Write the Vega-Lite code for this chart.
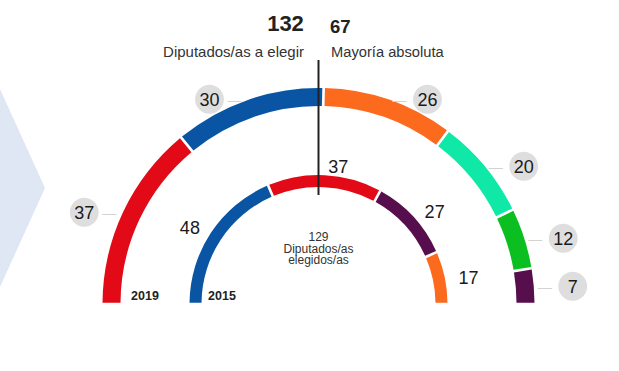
{
  "$schema": "https://vega.github.io/schema/vega-lite/v6.json",
  "autosize": {"type": "none"},
  "padding": {"left": 18, "top": 0, "right": 0, "bottom": 67},
  "width": 601,
  "height": 304,
  "background": "white",
  "config": {"view": {"stroke": null}, "font": "Liberation Sans"},
  "datasets": {
    "e2019": [
      {"partido": "PSOE", "escanos": 37, "orden": 1},
      {"partido": "PP", "escanos": 30, "orden": 2},
      {"partido": "Cs", "escanos": 26, "orden": 3},
      {"partido": "Más Madrid", "escanos": 20, "orden": 4},
      {"partido": "Vox", "escanos": 12, "orden": 5},
      {"partido": "Unidas Podemos", "escanos": 7, "orden": 6}
    ],
    "e2015": [
      {"partido": "PP", "escanos": 48, "orden": 1},
      {"partido": "PSOE", "escanos": 37, "orden": 2},
      {"partido": "Podemos", "escanos": 27, "orden": 3},
      {"partido": "Cs", "escanos": 17, "orden": 4}
    ],
    "deco": [{"d": 1}]
  },
  "layer": [
    {
      "data": {"name": "deco"},
      "mark": {"type": "point", "filled": true, "shape": "M -1 -2.2 L 0 0 L -1 2.2 Z", "size": 40000, "color": "#dfe6f4", "opacity": 1},
      "encoding": {"x": {"value": 27}, "y": {"value": 188}}
    },
    {
      "data": {"name": "e2019"},
      "mark": {"type": "arc", "outerRadius": 216, "innerRadius": 198, "padAngle": 0.009, "x": {"expr": "width/2"}, "y": {"expr": "height"}},
      "encoding": {
        "theta": {"field": "escanos", "type": "quantitative", "stack": true, "scale": {"domain": [0, 132], "range": [-1.5708, 1.5708]}},
        "order": {"field": "orden", "type": "quantitative"},
        "color": {"field": "partido", "type": "nominal", "legend": null,
          "scale": {"domain": ["PSOE", "PP", "Cs", "Más Madrid", "Vox", "Unidas Podemos", "Podemos"],
                    "range": ["#e30a17", "#0a55a3", "#fc6a1e", "#10e8a8", "#0cbf20", "#570e4d", "#570e4d"]}}
      }
    },
    {
      "data": {"name": "e2019"},
      "mark": {"type": "text", "radius": 217, "fontSize": 14, "color": "#d2d2d2", "baseline": "middle", "align": "center", "dx": -13, "dy": 2, "x": {"expr": "width/2"}, "y": {"expr": "height"}},
      "encoding": {
        "theta": {"field": "escanos", "type": "quantitative", "stack": true, "scale": {"domain": [0, 132], "range": [-1.5708, 1.5708]}},
        "order": {"field": "orden", "type": "quantitative"},
        "text": {"condition": {"test": "datum.orden <= 2", "value": "—"}, "value": ""}
      }
    },
    {
      "data": {"name": "e2019"},
      "mark": {"type": "text", "radius": 217, "fontSize": 14, "color": "#d2d2d2", "baseline": "middle", "align": "center", "dx": 10, "dy": 2, "x": {"expr": "width/2"}, "y": {"expr": "height"}},
      "encoding": {
        "theta": {"field": "escanos", "type": "quantitative", "stack": true, "scale": {"domain": [0, 132], "range": [-1.5708, 1.5708]}},
        "order": {"field": "orden", "type": "quantitative"},
        "text": {"condition": {"test": "datum.orden >= 3", "value": "—"}, "value": ""}
      }
    },
    {
      "data": {"name": "e2019"},
      "mark": {"type": "text", "radius": 217, "fontSize": 67, "color": "#dedede", "baseline": "middle", "align": "center", "dx": -38, "dy": -1, "x": {"expr": "width/2"}, "y": {"expr": "height"}},
      "encoding": {
        "theta": {"field": "escanos", "type": "quantitative", "stack": true, "scale": {"domain": [0, 132], "range": [-1.5708, 1.5708]}},
        "order": {"field": "orden", "type": "quantitative"},
        "text": {"condition": {"test": "datum.orden <= 2", "value": "●"}, "value": ""}
      }
    },
    {
      "data": {"name": "e2019"},
      "mark": {"type": "text", "radius": 217, "fontSize": 67, "color": "#dedede", "baseline": "middle", "align": "center", "dx": 38, "dy": -1, "x": {"expr": "width/2"}, "y": {"expr": "height"}},
      "encoding": {
        "theta": {"field": "escanos", "type": "quantitative", "stack": true, "scale": {"domain": [0, 132], "range": [-1.5708, 1.5708]}},
        "order": {"field": "orden", "type": "quantitative"},
        "text": {"condition": {"test": "datum.orden >= 3", "value": "●"}, "value": ""}
      }
    },
    {
      "data": {"name": "e2019"},
      "mark": {"type": "text", "radius": 217, "fontSize": 18, "color": "#1a1a1a", "baseline": "middle", "align": "center", "dx": -38, "dy": 2, "x": {"expr": "width/2"}, "y": {"expr": "height"}},
      "encoding": {
        "theta": {"field": "escanos", "type": "quantitative", "stack": true, "scale": {"domain": [0, 132], "range": [-1.5708, 1.5708]}},
        "order": {"field": "orden", "type": "quantitative"},
        "text": {"condition": {"test": "datum.orden <= 2", "field": "escanos", "type": "quantitative"}, "value": ""}
      }
    },
    {
      "data": {"name": "e2019"},
      "mark": {"type": "text", "radius": 217, "fontSize": 18, "color": "#1a1a1a", "baseline": "middle", "align": "center", "dx": 38, "dy": 2, "x": {"expr": "width/2"}, "y": {"expr": "height"}},
      "encoding": {
        "theta": {"field": "escanos", "type": "quantitative", "stack": true, "scale": {"domain": [0, 132], "range": [-1.5708, 1.5708]}},
        "order": {"field": "orden", "type": "quantitative"},
        "text": {"condition": {"test": "datum.orden >= 3", "field": "escanos", "type": "quantitative"}, "value": ""}
      }
    },
    {
      "data": {"name": "e2015"},
      "mark": {"type": "arc", "outerRadius": 129, "innerRadius": 117, "padAngle": 0.015, "x": {"expr": "width/2"}, "y": {"expr": "height"}},
      "encoding": {
        "theta": {"field": "escanos", "type": "quantitative", "stack": true, "scale": {"domain": [0, 129], "range": [-1.5708, 1.5708]}},
        "order": {"field": "orden", "type": "quantitative"},
        "color": {"field": "partido", "type": "nominal", "legend": null}
      }
    },
    {
      "data": {"name": "e2015"},
      "mark": {"type": "text", "radius": 141, "fontSize": 18, "color": "#1a1a1a", "baseline": "middle", "align": "right", "dx": -1, "dy": 3, "x": {"expr": "width/2"}, "y": {"expr": "height"}},
      "encoding": {
        "theta": {"field": "escanos", "type": "quantitative", "stack": true, "scale": {"domain": [0, 129], "range": [-1.5708, 1.5708]}},
        "order": {"field": "orden", "type": "quantitative"},
        "text": {"condition": {"test": "datum.orden <= 1", "field": "escanos", "type": "quantitative"}, "value": ""}
      }
    },
    {
      "data": {"name": "e2015"},
      "mark": {"type": "text", "radius": 140, "fontSize": 18, "color": "#1a1a1a", "baseline": "middle", "align": "left", "dx": 3, "dy": 4, "x": {"expr": "width/2"}, "y": {"expr": "height"}},
      "encoding": {
        "theta": {"field": "escanos", "type": "quantitative", "stack": true, "scale": {"domain": [0, 129], "range": [-1.5708, 1.5708]}},
        "order": {"field": "orden", "type": "quantitative"},
        "text": {"condition": {"test": "datum.orden >= 2", "field": "escanos", "type": "quantitative"}, "value": ""}
      }
    },
    {
      "data": {"name": "deco"},
      "mark": {"type": "rule", "color": "#222222", "strokeWidth": 2, "x": {"expr": "width/2"}},
      "encoding": {"y": {"value": 60}, "y2": {"value": 195}}
    },
    {
      "data": {"name": "deco"},
      "mark": {"type": "text", "fontSize": 22, "fontWeight": "bold", "color": "#222222", "align": "center", "baseline": "alphabetic", "dx": -33, "x": {"expr": "width/2"}},
      "encoding": {"y": {"value": 31}, "text": {"value": "132"}}
    },
    {
      "data": {"name": "deco"},
      "mark": {"type": "text", "fontSize": 18.5, "fontWeight": "bold", "color": "#222222", "align": "left", "baseline": "alphabetic", "dx": 11.5, "x": {"expr": "width/2"}},
      "encoding": {"y": {"value": 33}, "text": {"value": "67"}}
    },
    {
      "data": {"name": "deco"},
      "mark": {"type": "text", "fontSize": 15, "color": "#333333", "align": "right", "baseline": "alphabetic", "dx": -14.5, "x": {"expr": "width/2"}},
      "encoding": {"y": {"value": 57}, "text": {"value": "Diputados/as a elegir"}}
    },
    {
      "data": {"name": "deco"},
      "mark": {"type": "text", "fontSize": 14.7, "color": "#333333", "align": "left", "baseline": "alphabetic", "dx": 12.5, "x": {"expr": "width/2"}},
      "encoding": {"y": {"value": 57}, "text": {"value": "Mayoría absoluta"}}
    },
    {
      "data": {"name": "deco"},
      "mark": {"type": "text", "fontSize": 12, "color": "#333333", "align": "center", "baseline": "alphabetic", "lineHeight": 11.5, "x": {"expr": "width/2"}},
      "encoding": {"y": {"value": 241}, "text": {"value": ["129", "Diputados/as", "elegidos/as"]}}
    },
    {
      "data": {"name": "deco"},
      "mark": {"type": "text", "fontSize": 12.5, "fontWeight": "bold", "color": "#222222", "align": "center", "baseline": "alphabetic", "dx": -173.5, "x": {"expr": "width/2"}},
      "encoding": {"y": {"value": 300}, "text": {"value": "2019"}}
    },
    {
      "data": {"name": "deco"},
      "mark": {"type": "text", "fontSize": 12.5, "fontWeight": "bold", "color": "#222222", "align": "center", "baseline": "alphabetic", "dx": -96.5, "x": {"expr": "width/2"}},
      "encoding": {"y": {"value": 300}, "text": {"value": "2015"}}
    }
  ],
  "resolve": {"scale": {"theta": "independent"}}
}
